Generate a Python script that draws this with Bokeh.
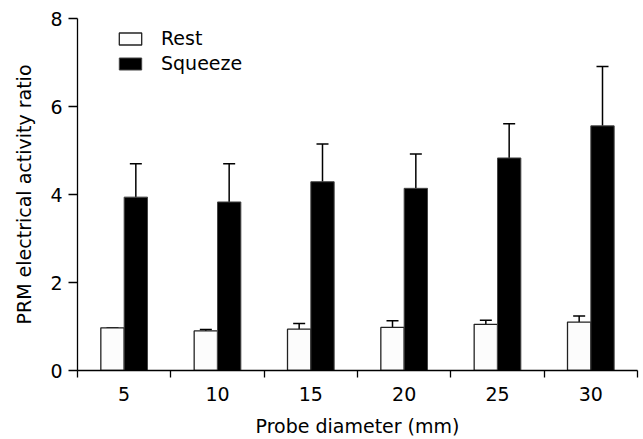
from bokeh.plotting import figure
from bokeh.models import (ColumnDataSource, Range1d, FixedTicker, Whisker, TeeHead,
                          Legend, LegendItem)
from bokeh.transform import dodge
from bokeh.embed import file_html
from bokeh.resources import INLINE

diameters = [5, 10, 15, 20, 25, 30]
tick_labels = ["5", "10", "15", "20", "25", "30"]
rest = [0.97, 0.90, 0.94, 0.98, 1.05, 1.10]
rest_err = [0.97, 0.93, 1.07, 1.13, 1.14, 1.24]
squeeze = [3.94, 3.83, 4.29, 4.14, 4.83, 5.56]
squeeze_err = [4.70, 4.70, 5.15, 4.92, 5.61, 6.91]
y_ticks = [0, 2, 4, 6, 8]

FONT = "DejaVu Sans"
FS = "19px"

src = ColumnDataSource(dict(x=diameters, rest=rest, rest_err=rest_err,
                            squeeze=squeeze, squeeze_err=squeeze_err))

p = figure(width=640, height=439, output_backend="svg", toolbar_location=None,
           x_range=Range1d(2.5, 32.5), y_range=Range1d(0, 8),
           min_border_left=77, min_border_right=3, min_border_top=18,
           min_border_bottom=0)
p.outline_line_color = None
p.grid.grid_line_color = None
p.background_fill_color = "white"

bw = 1.25
r_rest = p.vbar(x=dodge("x", -bw / 2, range=p.x_range), top="rest", width=bw, source=src,
                fill_color="#fcfcfc", line_color="#222222", line_width=1.3)
r_sq = p.vbar(x=dodge("x", bw / 2, range=p.x_range), top="squeeze", width=bw, source=src,
              fill_color="black", line_color="#444444", line_width=1.0)

for col, top, off in [("rest", "rest_err", -bw / 2), ("squeeze", "squeeze_err", bw / 2)]:
    w = Whisker(base=dodge("x", off, range=p.x_range), lower=col, upper=top, source=src,
                dimension="height", line_color="black", line_width=1.5,
                upper_head=TeeHead(size=12, line_color="black", line_width=1.5),
                lower_head=None, level="underlay")
    p.add_layout(w)

# x axis
p.xaxis.ticker = FixedTicker(ticks=diameters,
                             minor_ticks=[2.5, 7.5, 12.5, 17.5, 22.5, 27.5, 32.5])
p.xaxis.major_label_overrides = {d: t for d, t in zip(diameters, tick_labels)}
p.xaxis.major_tick_out = 0
p.xaxis.major_tick_in = 0
p.xaxis.minor_tick_out = 7
p.xaxis.minor_tick_in = 0
p.xaxis.minor_tick_line_width = 1.3
p.xaxis.major_label_standoff = 9
p.xaxis.axis_label = "Probe diameter (mm)"
p.xaxis.axis_label_standoff = 11

# y axis
p.yaxis.ticker = FixedTicker(ticks=y_ticks)
p.yaxis.minor_tick_line_color = None
p.yaxis.major_tick_out = 9
p.yaxis.major_tick_in = 0
p.yaxis.major_tick_line_width = 1.3
p.yaxis.major_label_standoff = 6
p.yaxis.axis_label = "PRM electrical activity ratio"
p.yaxis.axis_label_standoff = 12

for ax in (p.xaxis, p.yaxis):
    ax.axis_line_color = "black"
    ax.axis_line_width = 1.3
    ax.major_tick_line_color = "black"
    ax.major_label_text_font = FONT
    ax.major_label_text_font_size = FS
    ax.major_label_text_color = "black"
    ax.axis_label_text_font = FONT
    ax.axis_label_text_font_size = FS
    ax.axis_label_text_font_style = "normal"
    ax.axis_label_text_color = "black"
p.yaxis.major_label_orientation = "horizontal"

legend = Legend(items=[LegendItem(label="Rest", renderers=[r_rest]),
                       LegendItem(label="Squeeze", renderers=[r_sq])],
                location=(39, 296), margin=0, padding=0, spacing=3,
                glyph_width=28, glyph_height=15, label_standoff=17,
                label_text_font=FONT, label_text_font_size=FS,
                label_text_color="black",
                border_line_color=None, background_fill_alpha=0)
p.add_layout(legend)

open("out.html", "w").write(file_html(p, INLINE))
